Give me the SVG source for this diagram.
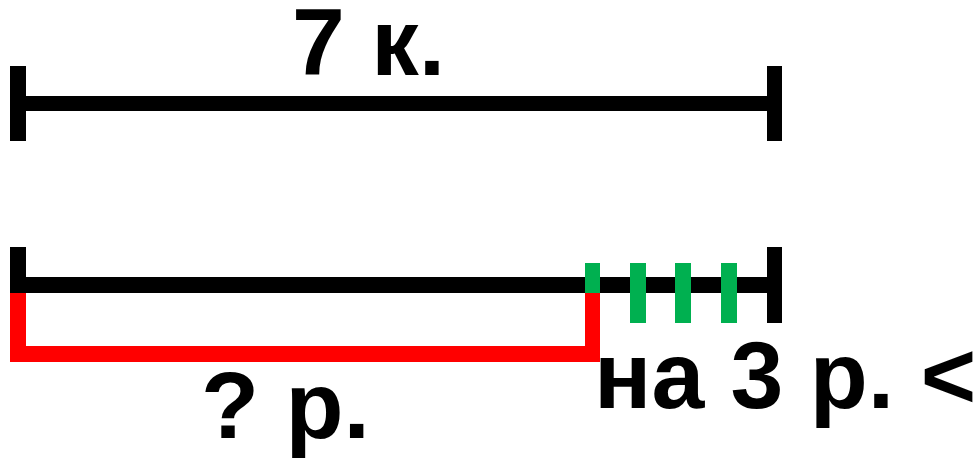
<svg xmlns="http://www.w3.org/2000/svg" width="980" height="459" viewBox="0 0 980 459">
<style>
.t{font-family:"Liberation Sans",Arial,sans-serif;font-weight:bold;font-size:95px;fill:#000}
.k{fill:#000}
.r{fill:#ff0000}
.g{fill:#00b050}
</style>
<rect width="980" height="459" fill="#fff"/>
<g id="top-segment">
<rect class="k" x="10" y="96" width="772" height="15"/>
<rect class="k" x="10" y="66" width="16" height="75"/>
<rect class="k" x="767" y="66" width="15" height="75"/>
<text class="t" x="292" y="75">7 к.</text>
</g>
<g id="bottom-segment">
<rect class="k" x="10" y="277" width="772" height="16"/>
<rect class="k" x="10" y="247" width="16" height="46"/>
<rect class="k" x="767" y="247" width="15" height="76"/>
</g>
<g id="red-bracket">
<rect class="r" x="10" y="293" width="16" height="69"/>
<rect class="r" x="10" y="346" width="590" height="16"/>
<rect class="r" x="585" y="293" width="15" height="69"/>
<text class="t" x="201" y="438">? р.</text>
</g>
<g id="green-marks">
<rect class="g" x="585" y="263" width="15" height="30"/>
<rect class="g" x="630" y="263" width="16" height="60"/>
<rect class="g" x="675" y="263" width="16" height="60"/>
<rect class="g" x="721" y="263" width="16" height="60"/>
<text class="t" x="594" y="408">на 3 р. &lt;</text>
</g>
</svg>
